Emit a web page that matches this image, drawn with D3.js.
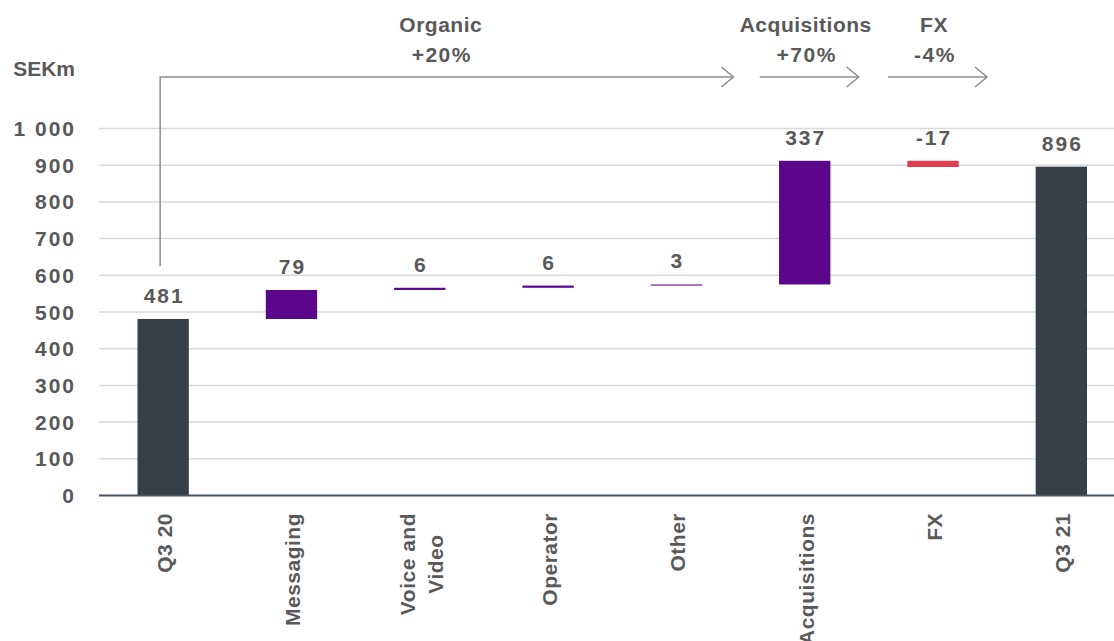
<!DOCTYPE html>
<html>
<head>
<meta charset="utf-8">
<script src="https://cdn.jsdelivr.net/npm/d3@7"></script>
<style>
  body { margin: 0; background: #fff; }
  svg text { font-family: "Liberation Sans", Arial, sans-serif; font-weight: bold; fill: #595959; }
</style>
</head>
<body>
<div id="chart"></div>
<script>
// waterfall data, SEKm
var categories = ['Q3 20', 'Messaging', 'Voice and|Video', 'Operator', 'Other', 'Acquisitions', 'FX', 'Q3 21'];
var values = [481, 79, 6, 6, 3, 337, -17, 896];
var kinds = ['total', 'up', 'up', 'up', 'up', 'up', 'down', 'total'];
var yTicks = [0, 100, 200, 300, 400, 500, 600, 700, 800, 900, 1000];
var groups = [
  { name: 'Organic', change: '+20%', from: 'Q3 20', to: 'Other' },
  { name: 'Acquisitions', change: '+70%', from: 'Acquisitions', to: 'Acquisitions' },
  { name: 'FX', change: '-4%', from: 'FX', to: 'FX' }
];

var W = 1114, H = 641;
var colors = { total: '#343f48', up: '#5c068c', down: '#e03c52' };

var svg = d3.select('#chart').append('svg')
  .attr('width', W)
  .attr('height', H);

var x = d3.scaleBand()
  .domain(categories)
  .range([99, 1125.5])
  .paddingInner(0.6)
  .paddingOuter(0.3);

var y = d3.scaleLinear()
  .domain([0, 1000])
  .range([495.5, 128.5]);

// running totals for the floating bars
var run = 0;
var bars = categories.map(function (c, i) {
  var v = values[i], lo, hi;
  if (kinds[i] == 'total') { lo = 0; hi = v; run = v; }
  else { lo = Math.min(run, run + v); hi = Math.max(run, run + v); run += v; }
  return { cat: c, v: v, kind: kinds[i], lo: lo, hi: hi };
});

// grid
svg.append('g').selectAll('line').data(yTicks.slice(1))
  .enter().append('line')
  .attr('x1', 99).attr('x2', W)
  .attr('y1', function (d) { return y(d); })
  .attr('y2', function (d) { return y(d); })
  .attr('stroke', '#d9d9d9')
  .attr('stroke-width', 1.5);

// y labels
svg.append('g').selectAll('text').data(yTicks)
  .enter().append('text')
  .attr('x', 76)
  .attr('y', function (d) { return y(d); })
  .attr('dy', '0.36em')
  .attr('text-anchor', 'end')
  .attr('font-size', 21)
  .attr('letter-spacing', 2)
  .text(function (d) { return d >= 1000 ? d3.format(',')(d).replace(',', ' ') : d; });

svg.append('text')
  .attr('x', 75).attr('y', 76)
  .attr('text-anchor', 'end')
  .attr('font-size', 21)
  .text('SEKm');

// bars
svg.append('g').selectAll('rect').data(bars)
  .enter().append('rect')
  .attr('x', function (d) { return x(d.cat); })
  .attr('width', x.bandwidth())
  .attr('y', function (d) { return y(d.hi); })
  .attr('height', function (d) { return Math.max(1, y(d.lo) - y(d.hi)); })
  .attr('fill', function (d) { return colors[d.kind]; });

// value labels
svg.append('g').selectAll('text').data(bars)
  .enter().append('text')
  .attr('x', function (d) { return x(d.cat) + x.bandwidth() / 2 + 1; })
  .attr('y', function (d) { return y(d.hi) - 16; })
  .attr('text-anchor', 'middle')
  .attr('font-size', 21)
  .attr('letter-spacing', 2)
  .text(function (d) { return d.v; });

// x axis line
svg.append('line')
  .attr('x1', 99).attr('x2', W)
  .attr('y1', y(0)).attr('y2', y(0))
  .attr('stroke', '#4a5560')
  .attr('stroke-width', 2);

// rotated category labels
var cl = svg.append('g').selectAll('g').data(categories)
  .enter().append('g')
  .attr('transform', function (d) { return 'translate(' + (x(d) + x.bandwidth() / 2) + ',513) rotate(-90)'; });

cl.each(function (d) {
  var g = d3.select(this);
  var lines = d.split('|');
  var n = lines.length;
  var t = g.append('text')
    .attr('font-size', 21)
    .attr('letter-spacing', 0.5)
    .attr('text-anchor', 'end');
  lines.forEach(function (l, i) {
    t.append('tspan')
      .attr('x', 0)
      .attr('y', 0)
      .attr('dy', (0.42 + (i - (n - 1) / 2) * 1.33) + 'em')
      .text(l);
  });
  if (n > 1) {
    // centre the shorter lines under the longest one
    var spans = t.selectAll('tspan').nodes();
    var lens = spans.map(function (s) { return s.getComputedTextLength(); });
    var mx = d3.max(lens);
    spans.forEach(function (s, i) {
      d3.select(s).attr('x', -(mx - lens[i]) / 2);
    });
  }
});

// bracket arrows on top
var arrowY = 77;
var grey = '#8c8c8c';
var arrows = svg.append('g').attr('fill', 'none').attr('stroke', grey).attr('stroke-width', 1.5);

groups.forEach(function (g, i) {
  var c0 = x(g.from) + x.bandwidth() / 2;
  var c1 = x(g.to) + x.bandwidth() / 2;
  var x0, x1;
  if (i == 0) { x0 = c0 - 3; x1 = c1 + 57; }
  else { x0 = c0 - 45; x1 = c1 + 54; }
  if (i == 0) {
    arrows.append('path').attr('d', 'M' + x0 + ',' + y(625) + 'V' + arrowY + 'H' + x1);
  } else {
    arrows.append('path').attr('d', 'M' + x0 + ',' + arrowY + 'H' + x1);
  }
  arrows.append('path').attr('d', 'M' + (x1 - 12) + ',' + (arrowY - 10) + 'L' + x1 + ',' + arrowY + 'L' + (x1 - 12) + ',' + (arrowY + 10));

  var cx = i == 0 ? (x0 + x1) / 2 - 6 : c0 + 1;
  svg.append('text')
    .attr('x', cx).attr('y', 32)
    .attr('text-anchor', 'middle')
    .attr('font-size', 21)
    .attr('letter-spacing', 0.5)
    .text(g.name);
  svg.append('text')
    .attr('x', cx + 1).attr('y', 62)
    .attr('text-anchor', 'middle')
    .attr('font-size', 21)
    .attr('letter-spacing', 1.5)
    .text(g.change);
});
</script>
</body>
</html>
